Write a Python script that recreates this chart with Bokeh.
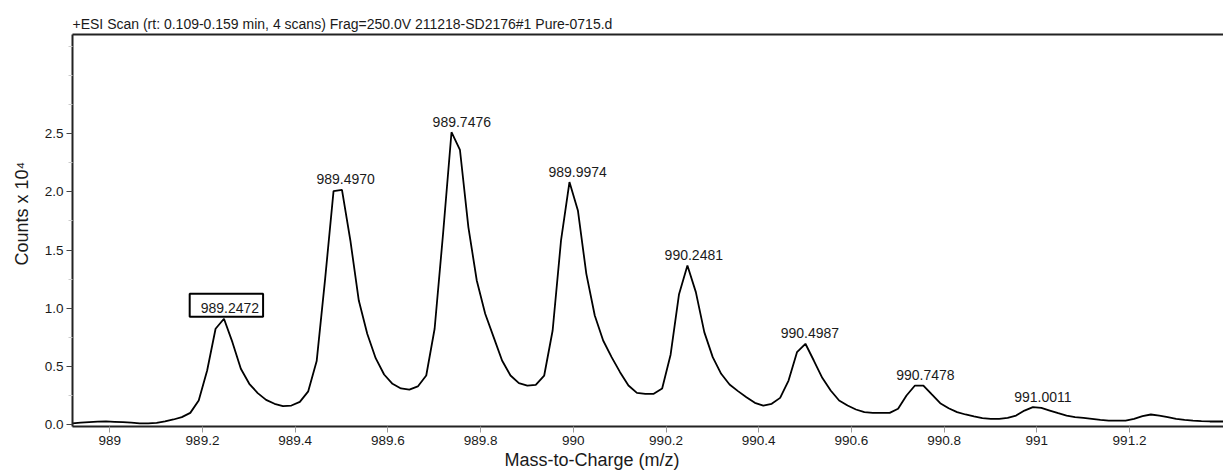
from bokeh.plotting import figure
from bokeh.models import (Label, Title, FixedTicker, PrintfTickFormatter,
                          CustomJSTickFormatter, LinearAxis)
from bokeh.embed import file_html
from bokeh.resources import INLINE

# ---------------- data (Counts x 10^4 vs m/z) ----------------
mz = [
    988.9191, 988.9373, 988.9555, 988.9736, 988.9918, 989.0100, 989.0282, 989.0464,
    989.0645, 989.0827, 989.1009, 989.1191, 989.1373, 989.1554, 989.1736, 989.1918,
    989.2100, 989.2282, 989.2463, 989.2645, 989.2827, 989.3009, 989.3191, 989.3372,
    989.3554, 989.3736, 989.3918, 989.4100, 989.4281, 989.4463, 989.4645, 989.4827,
    989.5009, 989.5190, 989.5372, 989.5554, 989.5736, 989.5918, 989.6099, 989.6281,
    989.6463, 989.6645, 989.6827, 989.7008, 989.7190, 989.7372, 989.7554, 989.7736,
    989.7917, 989.8099, 989.8281, 989.8463, 989.8645, 989.8826, 989.9008, 989.9190,
    989.9372, 989.9554, 989.9735, 989.9917, 990.0099, 990.0281, 990.0463, 990.0644,
    990.0826, 990.1008, 990.1190, 990.1372, 990.1553, 990.1735, 990.1917, 990.2099,
    990.2281, 990.2462, 990.2644, 990.2826, 990.3008, 990.3190, 990.3371, 990.3553,
    990.3735, 990.3917, 990.4099, 990.4280, 990.4462, 990.4644, 990.4826, 990.5008,
    990.5189, 990.5371, 990.5553, 990.5735, 990.5917, 990.6098, 990.6280, 990.6462,
    990.6644, 990.6826, 990.7007, 990.7189, 990.7371, 990.7553, 990.7735, 990.7916,
    990.8098, 990.8280, 990.8462, 990.8644, 990.8825, 990.9007, 990.9189, 990.9371,
    990.9553, 990.9734, 990.9916, 991.0098, 991.0280, 991.0462, 991.0643, 991.0825,
    991.1007, 991.1189, 991.1371, 991.1552, 991.1734, 991.1916, 991.2098, 991.2280,
    991.2461, 991.2643, 991.2825, 991.3007, 991.3189, 991.3370, 991.3552, 991.3734,
    991.3916, 991.4098,
]
counts = [
    0.009, 0.016, 0.020, 0.024, 0.026, 0.023, 0.020, 0.016,
    0.010, 0.009, 0.014, 0.026, 0.043, 0.063, 0.100, 0.206,
    0.464, 0.823, 0.909, 0.708, 0.479, 0.350, 0.270, 0.212,
    0.178, 0.158, 0.163, 0.195, 0.285, 0.545, 1.250, 2.006,
    2.018, 1.582, 1.066, 0.780, 0.570, 0.430, 0.350, 0.310,
    0.300, 0.327, 0.421, 0.823, 1.640, 2.513, 2.362, 1.697,
    1.238, 0.952, 0.751, 0.550, 0.421, 0.355, 0.335, 0.341,
    0.421, 0.808, 1.582, 2.084, 1.840, 1.295, 0.937, 0.722,
    0.579, 0.450, 0.335, 0.272, 0.264, 0.264, 0.310, 0.600,
    1.120, 1.367, 1.138, 0.794, 0.579, 0.436, 0.344, 0.287,
    0.235, 0.186, 0.163, 0.178, 0.229, 0.378, 0.622, 0.694,
    0.550, 0.401, 0.292, 0.206, 0.163, 0.129, 0.106, 0.100,
    0.100, 0.100, 0.135, 0.249, 0.335, 0.335, 0.258, 0.183,
    0.140, 0.106, 0.086, 0.069, 0.054, 0.049, 0.049, 0.057,
    0.077, 0.120, 0.149, 0.143, 0.120, 0.097, 0.077, 0.063,
    0.057, 0.049, 0.040, 0.034, 0.034, 0.034, 0.049, 0.072,
    0.086, 0.077, 0.063, 0.049, 0.040, 0.034, 0.029, 0.026,
    0.026, 0.026,
]

# peak annotations
peak_mz = [989.2472, 989.4970, 989.7476, 989.9974, 990.2481, 990.4987, 990.7478, 991.0011]
peak_height = [0.909, 2.018, 2.513, 2.084, 1.367, 0.694, 0.335, 0.149]
peak_text = ["989.2472", "989.4970", "989.7476", "989.9974",
             "990.2481", "990.4987", "990.7478", "991.0011"]
boxed_peak = "989.2472"

# axes
x_ticks = [989.0, 989.2, 989.4, 989.6, 989.8, 990.0, 990.2, 990.4, 990.6, 990.8, 991.0, 991.2]
y_ticks = [0.0, 0.5, 1.0, 1.5, 2.0, 2.5]
y_minor_ticks = [0.25, 0.75, 1.25, 1.75, 2.25, 2.75, 3.0, 3.25]

title_text = "+ESI Scan (rt: 0.109-0.159 min, 4 scans) Frag=250.0V 211218-SD2176#1 Pure-0715.d"
x_label = "Mass-to-Charge (m/z)"
y_label = "Counts x 10\u2074"

FONT = "Liberation Sans"
TXT = "#1a1a1a"
AX = "#222222"

p = figure(width=1223, height=475,
           x_range=(988.9195, 991.4028), y_range=(-0.0172, 3.353),
           output_backend="svg", toolbar_location=None,
           min_border_left=72, min_border_right=0,
           min_border_top=34, min_border_bottom=49,
           title=title_text)
p.title.text_font = FONT
p.title.text_font_size = "14px"
p.title.text_font_style = "normal"
p.title.text_color = TXT
p.title.align = "left"
p.title.standoff = 6

p.outline_line_color = None
p.grid.visible = False
p.background_fill_color = "white"
p.border_fill_color = "white"

p.line(mz, counts, line_color="black", line_width=1.8)

# x axis
xa = p.xaxis[0]
xa.ticker = FixedTicker(ticks=x_ticks)
xa.formatter = CustomJSTickFormatter(code="return String(Math.round(tick*10)/10);")
xa.axis_line_color = AX
xa.axis_line_width = 2
xa.major_tick_line_color = "#9a9a9a"
xa.major_tick_line_width = 1
xa.major_tick_out = 6
xa.major_tick_in = 0
xa.minor_tick_line_color = None
xa.major_label_text_font = FONT
xa.major_label_text_font_size = "13.5px"
xa.major_label_text_color = TXT
xa.major_label_standoff = 3

# y axis
ya = p.yaxis[0]
ya.ticker = FixedTicker(ticks=y_ticks, minor_ticks=y_minor_ticks)
ya.formatter = PrintfTickFormatter(format="%.1f")
ya.axis_line_color = AX
ya.axis_line_width = 2
ya.major_tick_line_color = "#444444"
ya.major_tick_out = 6
ya.major_tick_in = 0
ya.minor_tick_line_color = "#cccccc"
ya.minor_tick_out = 4
ya.minor_tick_in = 0
ya.major_label_text_font = FONT
ya.major_label_text_font_size = "13.5px"
ya.major_label_text_color = TXT
ya.major_label_standoff = 3

# top frame line
top = LinearAxis(ticker=FixedTicker(ticks=[]), axis_line_color=AX, axis_line_width=2,
                 major_tick_out=0, minor_tick_out=0, major_tick_line_color=None,
                 minor_tick_line_color=None, major_label_standoff=0,
                 major_label_text_font_size="0px")
p.add_layout(top, "above")

# axis titles
p.add_layout(Title(text=x_label, align="left", offset=432, standoff=4,
                   vertical_align="top",
                   text_font=FONT, text_font_size="18px", text_font_style="normal",
                   text_color=TXT), "below")
p.add_layout(Title(text=y_label, align="left", offset=161, standoff=18,
                   vertical_align="middle",
                   text_font=FONT, text_font_size="18px", text_font_style="normal",
                   text_color=TXT), "left")

# peak labels
for xm, h, t in zip(peak_mz, peak_height, peak_text):
    kw = dict(x=xm, y=h, text=t, x_offset=5.5, y_offset=10.5,
              text_align="center", text_baseline="alphabetic",
              text_font=FONT, text_font_size="14px", text_color=TXT)
    if t == boxed_peak:
        kw.update(x_offset=2, y_offset=13.5, border_line_color="black", border_line_width=2,
                  background_fill_color="white", padding=(11, 4, 9, 4))
    p.add_layout(Label(**kw))

open("out.html", "w").write(file_html(p, INLINE))
